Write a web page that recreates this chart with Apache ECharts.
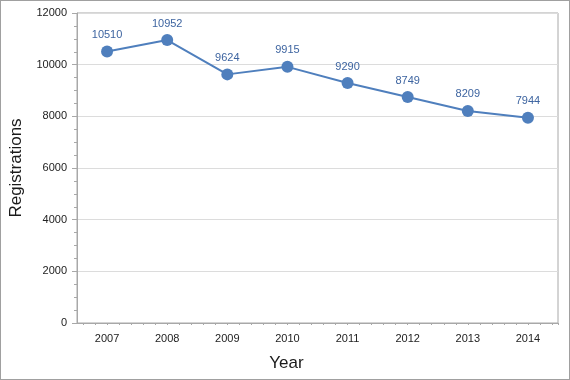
<!DOCTYPE html>
<html>
<head>
<meta charset="utf-8">
<script src="https://cdn.jsdelivr.net/npm/echarts@6/dist/echarts.min.js"></script>
<style>
html,body{margin:0;padding:0;background:#fff;}
#c{width:570px;height:380px;box-sizing:border-box;border:1px solid #a0a0a0;}
</style>
</head>
<body>
<div id="c"></div>
<script>
const years = ['2007','2008','2009','2010','2011','2012','2013','2014'];
const registrations = [10510, 10952, 9624, 9915, 9290, 8749, 8209, 7944];
const yTicks = {min: 0, max: 12000, interval: 2000};

const chart = echarts.init(document.getElementById('c'), null, {renderer: 'canvas'});
const font = 'Liberation Sans, Arial, sans-serif';
chart.setOption({
  animation: false,
  grid: [
    {left: 76, top: 12, right: 11, bottom: 56, show: true, borderColor: '#a8a8a8', borderWidth: 1, containLabel: false, outerBoundsMode: 'none'},
    {left: 82, top: 12, right: 11, bottom: 56, show: false, containLabel: false, outerBoundsMode: 'none'}
  ],
  xAxis: [
    {
      type: 'category', data: years, gridIndex: 0,
      name: 'Year', nameLocation: 'middle', nameGap: 32,
      nameTextStyle: {fontFamily: font, fontSize: 17, color: '#1a1a1a', padding: [0, 62, 0, 0]},
      axisLine: {lineStyle: {color: '#a8a8a8'}},
      axisTick: {alignWithLabel: true, length: 4, lineStyle: {color: '#a8a8a8'}},
      axisLabel: {fontFamily: font, fontSize: 11, color: '#222', margin: 10},
      splitLine: {show: false}
    },
    {
      type: 'value', gridIndex: 1, min: 0, max: 7.9, interval: 0.2,
      axisLine: {show: false},
      axisTick: {show: true, length: 2, lineStyle: {color: '#a8a8a8'}},
      axisLabel: {show: false},
      splitLine: {show: false}
    }
  ],
  yAxis: [
    {
      type: 'value', gridIndex: 0, min: yTicks.min, max: yTicks.max, interval: yTicks.interval,
      name: 'Registrations', nameLocation: 'middle', nameGap: 52,
      nameTextStyle: {fontFamily: font, fontSize: 17, color: '#1a1a1a'},
      axisLine: {show: true, lineStyle: {color: '#a8a8a8'}},
      axisTick: {show: true, length: 5, lineStyle: {color: '#a8a8a8'}},
      minorTick: {show: true, splitNumber: 4, length: 3, lineStyle: {color: '#a8a8a8'}},
      axisLabel: {fontFamily: font, fontSize: 11, color: '#222', margin: 10, formatter: v => String(v)},
      splitLine: {lineStyle: {color: '#dcdcdc'}}
    },
    {
      type: 'value', gridIndex: 1, min: 0, max: 12000, show: false
    }
  ],
  series: [{
    type: 'line', xAxisIndex: 0, yAxisIndex: 0,
    data: registrations,
    symbol: 'circle', symbolSize: 12,
    lineStyle: {color: '#4f7fbd', width: 2},
    itemStyle: {color: '#4f7fbd'},
    label: {show: true, position: 'top', distance: 5, fontFamily: font, fontSize: 11, color: '#3d64a0'}
  }]
});
</script>
</body>
</html>
